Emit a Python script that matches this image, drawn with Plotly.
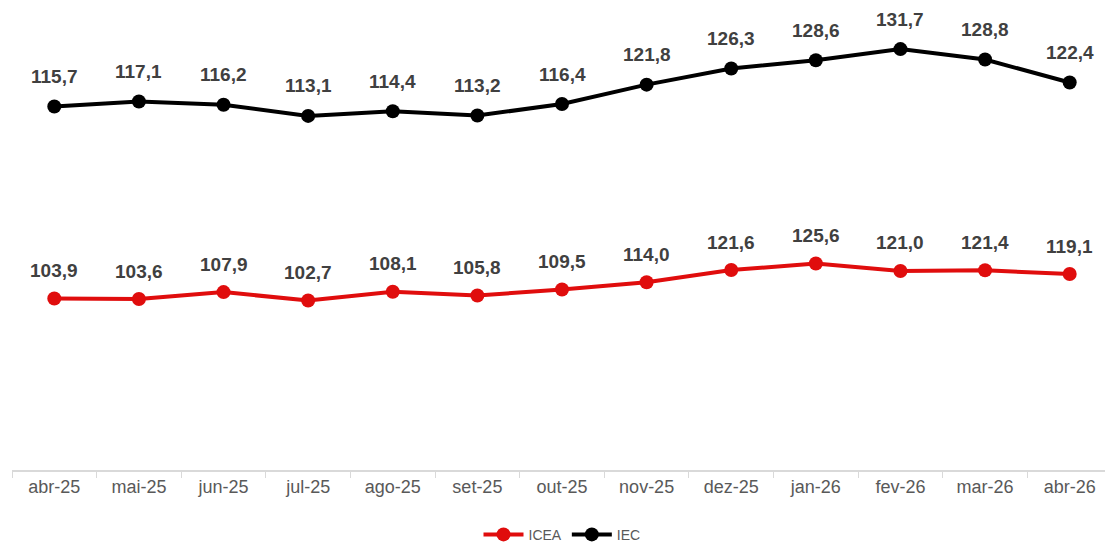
import plotly.graph_objects as go

months = ["abr-25", "mai-25", "jun-25", "jul-25", "ago-25", "set-25", "out-25",
          "nov-25", "dez-25", "jan-26", "fev-26", "mar-26", "abr-26"]
icea = [103.9, 103.6, 107.9, 102.7, 108.1, 105.8, 109.5, 114.0, 121.6, 125.6, 121.0, 121.4, 119.1]
iec = [115.7, 117.1, 116.2, 113.1, 114.4, 113.2, 116.4, 121.8, 126.3, 128.6, 131.7, 128.8, 122.4]

RED = "#e00d0d"
BLACK = "#000000"
LABEL_COLOR = "#404040"
FONT = "Liberation Sans, Arial, sans-serif"


def fmt(v):
    return "<b>" + f"{v:.1f}".replace(".", ",") + "</b>"


fig = go.Figure()
fig.add_trace(go.Scatter(
    x=months, y=icea, name="ICEA", mode="lines+markers",
    line=dict(color=RED, width=4), marker=dict(color=RED, size=14),
    yaxis="y",
))
fig.add_trace(go.Scatter(
    x=months, y=iec, name="IEC", mode="lines+markers",
    line=dict(color=BLACK, width=4), marker=dict(color=BLACK, size=14),
    yaxis="y2",
))

annotations = []
for m, v in zip(months, icea):
    annotations.append(dict(x=m, y=v, xref="x", yref="y", text=fmt(v), showarrow=False,
                            yshift=28, font=dict(family=FONT, size=19, color=LABEL_COLOR),
                            xanchor="center", yanchor="middle"))
for m, v in zip(months, iec):
    annotations.append(dict(x=m, y=v, xref="x", yref="y2", text=fmt(v), showarrow=False,
                            yshift=30, font=dict(family=FONT, size=19, color=LABEL_COLOR),
                            xanchor="center", yanchor="middle"))

fig.update_layout(
    annotations=annotations,
    width=1113, height=547,
    margin=dict(l=4, r=9, t=12, b=83),
    paper_bgcolor="white", plot_bgcolor="white",
    font=dict(family=FONT, color="#595959"),
    showlegend=True,
    legend=dict(orientation="h", x=0.5, xanchor="center", y=-0.144, yanchor="middle",
                font=dict(size=14, color="#595959"), itemwidth=40),
    xaxis=dict(type="category", range=[-0.5, 12.5], showgrid=False,
               showline=True, linecolor="#d9d9d9", linewidth=1.5,
               ticks="outside", tickson="boundaries", ticklen=6, tickcolor="#d9d9d9",
               tickfont=dict(size=18, color="#595959"), zeroline=False),
    yaxis=dict(range=[-2.4, 276.6], visible=False, showgrid=False, zeroline=False),
    yaxis2=dict(range=[14.5, 139.8], visible=False, showgrid=False, zeroline=False,
                overlaying="y"),
)

fig.write_html("out.html")
